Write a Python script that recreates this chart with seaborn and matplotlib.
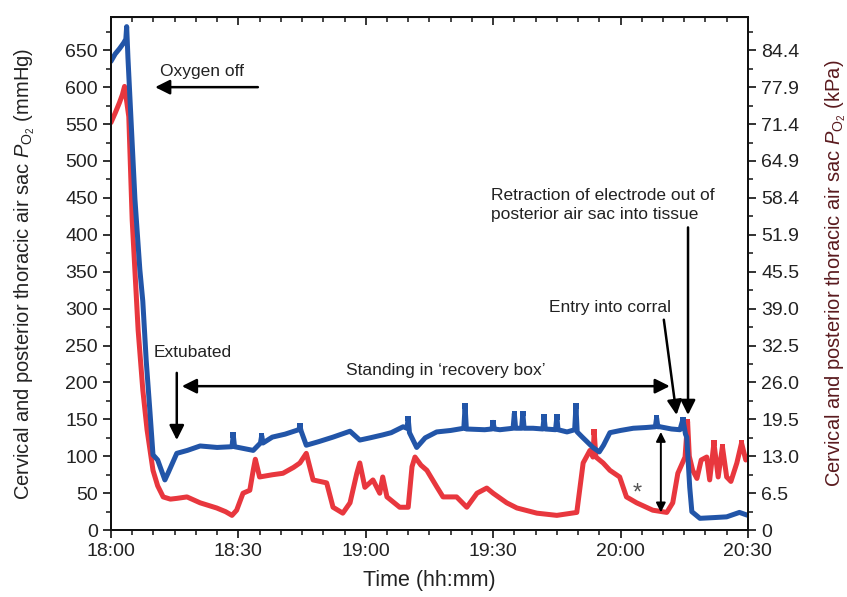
import matplotlib
matplotlib.use("Agg")
import matplotlib.pyplot as plt
import seaborn as sns
import pandas as pd
from matplotlib.ticker import MultipleLocator, FixedLocator

# ---- data (minutes after 18:00, mmHg) ----
blue_t = [0, 1, 2, 3, 3.5, 3.7, 4.0, 5.65, 6.8, 7.5, 8.3, 9.2, 9.9, 11, 12.7, 13.5, 15.5, 18, 21, 25,
          28.5, 28.8, 29.1, 30, 33.5, 35.2, 35.5, 35.8, 38, 41, 44.2, 44.5, 44.8, 46, 49, 52.3, 56.3, 58.6,
          61, 64, 66, 68.8, 69.7, 70, 70.3, 72, 74, 76.7, 80, 83.1, 83.4, 83.7, 88, 89.7, 90, 90.3, 91.6,
          94.7, 95, 95.3, 96.7, 97, 97.3, 99.4, 101.7, 102, 102.3, 104.7, 105, 105.3, 107.4, 109.2, 109.5,
          109.8, 111, 113.5, 115, 116, 117.5, 120, 123, 126, 128.2, 128.5, 128.8, 129.3, 132, 134, 134.7,
          135.3, 135.6, 136.3, 136.8, 138.7, 142, 145, 148, 150]
blue_v = [635, 645, 652, 660, 665, 682, 640, 448, 353, 310, 230, 159, 102, 95, 68, 78, 104, 108, 114, 112,
          113, 129, 113, 112, 108, 118, 128, 118, 126, 130, 136, 141, 134, 115, 120, 126, 134, 122,
          125, 129, 132, 140, 138, 151, 132, 112, 125, 133, 135, 138, 168, 137, 136, 137, 146, 137, 136,
          138, 158, 138, 138, 158, 138, 138, 137, 153, 137, 136, 153, 136, 133, 136, 168,
          133, 126, 112, 106, 115, 132, 135, 138, 139, 140, 152, 140, 140, 137, 136, 150,
          130, 126, 58, 25, 16, 17, 18, 24, 20]

red_t = [0, 1, 2, 2.7, 3.2, 3.6, 4.2, 5, 6.4, 7.5, 8.5, 9.9, 11, 12.3, 14, 15.5, 17.9, 21, 24.9, 27, 28.5,
         29.6, 31.1, 32.7, 33.5, 34, 35, 38, 40.5, 43, 44.5, 46, 47.6, 50.8, 52.3, 54.6, 56.3, 57.9, 58.6,
         59.8, 61.7, 63.3, 64, 65, 68, 70, 70.9, 71.6, 73, 74.4, 76.8, 78.2, 81.4, 83.8, 86.2, 88.5, 90,
         93.2, 95.6, 100.3, 105, 109.7, 111.2, 112.8, 113.5, 113.8, 114.2, 115.9, 117.5, 119.8, 121.4, 123.8,
         127.6, 130.9, 132.3, 133.5, 135.2, 135.8, 136.2, 137, 138, 139, 140.3, 141, 142, 143, 144, 145,
         146, 147.4, 148.5, 149.5, 150]
red_v = [552, 565, 579, 590, 601, 585, 560, 420, 271, 190, 136, 81, 60, 45, 42, 43, 45, 37, 30, 25, 20,
         27, 50, 54, 81, 96, 72, 75, 77, 85, 91, 104, 68, 64, 31, 23, 37, 77, 91,
         58, 68, 50, 72, 45, 31, 31, 86, 99, 88, 81, 58, 45, 45, 31, 50, 57, 50,
         37, 30, 23, 20, 24, 91, 108, 99, 133, 99, 91, 81, 72, 45, 37,
         27, 24, 37, 77, 99, 147, 100, 81, 70, 95, 99, 68, 118, 72, 113, 72,
         66, 91, 118, 95, 100]

blue_spike_t = [28.8, 35.5, 44.5, 70, 83.4, 90, 95, 97, 102, 105, 109.5, 128.5, 134.7]
blue_spike_v = [129, 128, 141, 151, 168, 146, 158, 158, 153, 153, 168, 152, 150]
red_spike_t = [113.8, 135.8, 142, 144, 148.5]
red_spike_v = [133, 147, 118, 113, 118]

x_ticks = [0, 30, 60, 90, 120, 150]
x_labels = ["18:00", "18:30", "19:00", "19:30", "20:00", "20:30"]
y_ticks = [0, 50, 100, 150, 200, 250, 300, 350, 400, 450, 500, 550, 600, 650]
kpa_labels = ["0", "6.5", "13.0", "19.5", "26.0", "32.5", "39.0", "45.5", "51.9", "58.4",
              "64.9", "71.4", "77.9", "84.4"]

BLUE = "#2255a8"
RED = "#e8373e"

sns.set_style("ticks")
plt.rcParams["font.family"] = ["Liberation Sans", "DejaVu Sans"]
plt.rcParams["mathtext.fontset"] = "custom"
plt.rcParams["mathtext.rm"] = "Liberation Sans"
plt.rcParams["mathtext.it"] = "Liberation Sans:italic"

fig = plt.figure(figsize=(8.47, 5.97), dpi=100)
ax = fig.add_axes([0.131, 0.112, 0.752, 0.8595])

red_df = pd.DataFrame({"t": red_t, "v": red_v})
blue_df = pd.DataFrame({"t": blue_t, "v": blue_v})
sns.lineplot(data=red_df, x="t", y="v", ax=ax, color=RED, lw=3.6, sort=False,
             solid_joinstyle="round", solid_capstyle="round")
sns.lineplot(data=blue_df, x="t", y="v", ax=ax, color=BLUE, lw=3.6, sort=False,
             solid_joinstyle="round", solid_capstyle="round")
sns.scatterplot(x=red_spike_t, y=red_spike_v, ax=ax, color=RED, marker="s", s=16, edgecolor="none")
sns.scatterplot(x=blue_spike_t, y=blue_spike_v, ax=ax, color=BLUE, marker="s", s=16, edgecolor="none")

ax.set_xlim(0, 150)
ax.set_ylim(0, 695)
ax.set_xticks(x_ticks)
ax.set_xticklabels(x_labels)
ax.xaxis.set_minor_locator(MultipleLocator(5))
ax.set_yticks(y_ticks)
ax.yaxis.set_minor_locator(MultipleLocator(25))
ax.tick_params(axis="both", which="major", labelsize=14, length=6, width=1.3, colors="#222222")
ax.tick_params(axis="both", which="minor", length=3.5, width=1.2)
ax.tick_params(axis="x", which="both", top=False, direction="out")
for s in ax.spines.values():
    s.set_linewidth(1.4)
    s.set_color("#111111")

ax.set_xlabel("Time (hh:mm)", fontsize=15.5, color="#222222", labelpad=7)
ax.set_ylabel(r"Cervical and posterior thoracic air sac $\mathit{P}_{\mathrm{O_2}}$ (mmHg)",
              fontsize=14.5, color="#222222", labelpad=20)

ax2 = ax.twinx()
ax2.set_ylim(ax.get_ylim())
ax2.yaxis.set_major_locator(FixedLocator(y_ticks))
ax2.set_yticklabels(kpa_labels)
ax2.yaxis.set_minor_locator(MultipleLocator(25))
ax2.tick_params(axis="y", which="major", labelsize=14, length=6, width=1.3, colors="#222222")
ax2.tick_params(axis="y", which="minor", length=3.5, width=1.2)
ax2.set_ylabel(r"Cervical and posterior thoracic air sac $\mathit{P}_{\mathrm{O_2}}$ (kPa)",
               fontsize=14.5, color="#5a1a1e", labelpad=17)
for s in ax2.spines.values():
    s.set_linewidth(1.4)
    s.set_color("#111111")

# top ticks inward via secondary axis
axt = ax.secondary_xaxis("top")
axt.set_xticks(x_ticks)
axt.set_xticklabels([])
axt.xaxis.set_minor_locator(MultipleLocator(5))
axt.tick_params(which="major", direction="in", length=6, width=1.3)
axt.tick_params(which="minor", direction="in", length=3.5, width=1.2)

# ---- annotations ----
ap = dict(arrowstyle="-|>", lw=1.8, color="black", mutation_scale=22, shrinkA=0, shrinkB=0)
ap2 = dict(arrowstyle="<|-|>", lw=1.8, color="black", mutation_scale=22, shrinkA=0, shrinkB=0)
tk = dict(fontsize=12.5, color="#222222")

ax.text(21.5, 621, "Oxygen off", ha="center", va="center", **tk)
ax.annotate("", xy=(10.4, 600), xytext=(34.6, 600), arrowprops=ap)

ax.text(10.0, 241, "Extubated", ha="left", va="center", **tk)
ax.annotate("", xy=(15.5, 122), xytext=(15.5, 213), arrowprops=ap)

ax.text(78.9, 216, "Standing in \u2018recovery box\u2019", ha="center", va="center", **tk)
ax.annotate("", xy=(16.7, 195), xytext=(131.6, 195), arrowprops=ap2)

ax.text(117.5, 301, "Entry into corral", ha="center", va="center", **tk)
ax.annotate("", xy=(133.2, 156), xytext=(130.2, 285), arrowprops=ap)

ax.text(89.5, 440, "Retraction of electrode out of\nposterior air sac into tissue",
        ha="left", va="center", linespacing=1.3, **tk)
ax.annotate("", xy=(135.9, 156), xytext=(135.9, 410), arrowprops=ap)

ax.text(124.0, 50, "*", ha="center", va="center", fontsize=17, color="#555555")
ax.annotate("", xy=(129.5, 24), xytext=(129.5, 133),
            arrowprops=dict(arrowstyle="<|-|>", lw=1.4, color="black", mutation_scale=14,
                            shrinkA=0, shrinkB=0))

fig.savefig("out.png", dpi=100)
